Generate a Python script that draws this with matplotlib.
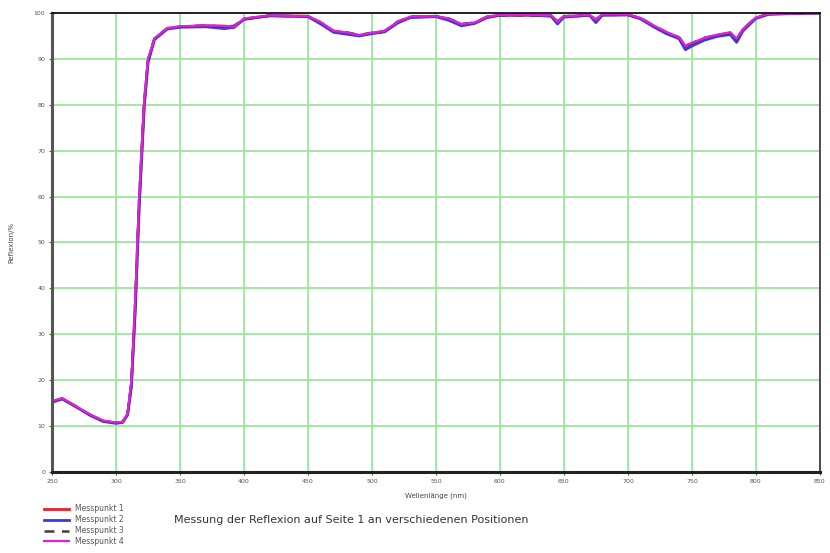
import matplotlib.pyplot as plt
import numpy as np

# wavelength grid (nm) and reflexion (%) for the four measurement points
wavelength = [250, 258, 270, 280, 290, 300, 305, 309, 312, 315, 318, 322, 325, 330, 340,
              350, 370, 385, 392, 400, 420, 450, 460, 470, 480, 490, 500, 510, 520, 530,
              550, 560, 570, 580, 590, 600, 620, 640, 645, 650, 670, 675, 680, 700, 710,
              720, 730, 740, 745, 750, 760, 770, 780, 785, 790, 800, 810, 830, 850]

messpunkt1 = [15.3, 16.0, 14.0, 12.4, 11.1, 10.7, 10.8, 12.5, 19.0, 36.0, 58.0, 80.0, 89.5, 94.3, 96.6,
              97.0, 97.2, 97.1, 96.8, 98.7, 99.4, 99.3, 97.9, 96.0, 95.7, 95.1, 95.6, 96.0, 98.0, 99.1,
              99.3, 98.7, 97.5, 97.8, 99.1, 99.5, 99.5, 99.4, 98.2, 99.2, 99.5, 98.6, 99.6, 99.6, 98.8,
              97.2, 95.7, 94.6, 92.6, 93.3, 94.4, 95.1, 95.7, 94.3, 96.4, 98.9, 99.8, 99.9, 100.0]
messpunkt2 = [15.2, 15.9, 14.0, 12.3, 11.0, 10.6, 10.8, 12.4, 18.5, 35.0, 57.0, 79.5, 89.2, 94.2, 96.5,
              96.9, 97.0, 96.6, 96.9, 98.6, 99.4, 99.2, 97.6, 95.8, 95.4, 95.0, 95.5, 95.9, 97.8, 99.0,
              99.2, 98.4, 97.2, 97.7, 99.0, 99.5, 99.6, 99.3, 97.6, 99.1, 99.5, 97.9, 99.5, 99.6, 98.7,
              97.0, 95.5, 94.4, 92.0, 92.8, 94.1, 94.9, 95.3, 93.6, 96.1, 98.8, 99.7, 99.9, 100.0]
messpunkt3 = [15.3, 16.0, 14.1, 12.4, 11.1, 10.7, 10.9, 12.6, 19.5, 37.0, 59.0, 80.5, 89.8, 94.4, 96.7,
              97.0, 97.3, 97.0, 97.2, 98.7, 99.4, 99.3, 97.9, 96.1, 95.8, 95.2, 95.7, 96.1, 98.1, 99.2,
              99.3, 98.8, 97.6, 97.9, 99.2, 99.5, 99.5, 99.4, 98.0, 99.3, 99.6, 98.4, 99.6, 99.6, 98.9,
              97.3, 95.8, 94.7, 92.8, 93.4, 94.6, 95.2, 95.6, 94.2, 96.5, 99.0, 99.8, 99.9, 100.0]
messpunkt4 = [15.4, 16.1, 14.1, 12.5, 11.2, 10.8, 10.9, 12.7, 20.0, 37.5, 59.5, 81.0, 90.0, 94.5, 96.7,
              97.1, 97.3, 97.2, 97.0, 98.8, 99.5, 99.3, 98.0, 96.1, 95.8, 95.2, 95.7, 96.1, 98.1, 99.2,
              99.3, 98.8, 97.6, 97.9, 99.2, 99.6, 99.6, 99.5, 98.1, 99.3, 99.6, 98.5, 99.7, 99.7, 98.9,
              97.3, 95.9, 94.7, 92.9, 93.5, 94.6, 95.3, 95.8, 94.4, 96.5, 99.0, 99.8, 99.9, 100.0]

fig = plt.figure(figsize=(8.3, 5.53), dpi=100)
ax = fig.add_axes([0.0627, 0.1465, 0.925, 0.83])

grid_col = '#9be89b'
ax.set_xlim(250, 850)
ax.set_ylim(0, 100)
ax.set_xticks(np.arange(250, 851, 50))
ax.set_yticks(np.arange(0, 101, 10))
ax.grid(True, color=grid_col, linewidth=1.3)
ax.set_axisbelow(True)

ax.plot(wavelength, messpunkt1, color='#e8202a', lw=2.0, label='Messpunkt 1')
ax.plot(wavelength, messpunkt2, color='#3a3ae0', lw=2.0, label='Messpunkt 2')
ax.plot(wavelength, messpunkt3, color='#404040', lw=1.8, ls=(0, (4, 3)), label='Messpunkt 3')
ax.plot(wavelength, messpunkt4, color='#e020e0', lw=1.6, label='Messpunkt 4')

for s in ['left', 'bottom']:
    ax.spines[s].set_linewidth(2.2)
ax.spines['left'].set_color('#555555')
ax.spines['bottom'].set_color('#222222')
ax.spines['top'].set_linewidth(1.2)
ax.spines['right'].set_linewidth(1.2)
ax.spines['right'].set_color('#333333')

ax.tick_params(labelsize=4.5, colors='#555555', length=2, pad=3)
ax.set_xlabel('Wellenlänge (nm)', fontsize=5, color='#444444', labelpad=6)
ax.set_ylabel('Reflexion/%', fontsize=5, color='#444444', labelpad=14)

leg = fig.legend(loc='lower left', bbox_to_anchor=(0.045, 0.0), fontsize=5.5,
                 frameon=False, handlelength=3.2, labelspacing=0.25)
for t in leg.get_texts():
    t.set_color('#555555')

fig.text(0.21, 0.055, 'Messung der Reflexion auf Seite 1 an verschiedenen Positionen',
         fontsize=8, color='#333333')

plt.savefig('out.png', dpi=100)
